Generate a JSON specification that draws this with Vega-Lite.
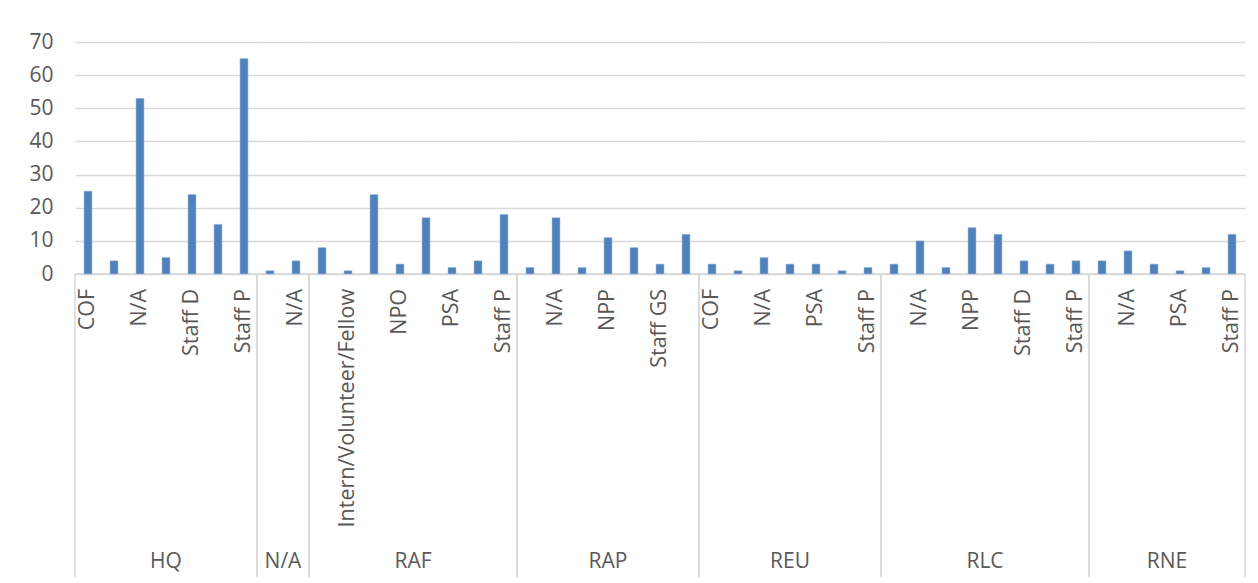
{
  "$schema": "https://vega.github.io/schema/vega-lite/v6.json",
  "padding": {"left": 28, "top": 31, "right": 10, "bottom": 0},
  "background": "white",
  "bounds": "flush",
  "data": {"values": [
    {"group": "HQ", "sub": "COF", "value": 25},
    {"group": "HQ", "sub": "Intern/Volunteer/Fellow", "value": 4},
    {"group": "HQ", "sub": "N/A", "value": 53},
    {"group": "HQ", "sub": "NPP", "value": 5},
    {"group": "HQ", "sub": "Staff D", "value": 24},
    {"group": "HQ", "sub": "Staff GS", "value": 15},
    {"group": "HQ", "sub": "Staff P", "value": 65},
    {"group": "N/A", "sub": "COF", "value": 1},
    {"group": "N/A", "sub": "N/A", "value": 4},
    {"group": "RAF", "sub": "COF", "value": 8},
    {"group": "RAF", "sub": "Intern/Volunteer/Fellow", "value": 1},
    {"group": "RAF", "sub": "N/A", "value": 24},
    {"group": "RAF", "sub": "NPO", "value": 3},
    {"group": "RAF", "sub": "NPP", "value": 17},
    {"group": "RAF", "sub": "PSA", "value": 2},
    {"group": "RAF", "sub": "Staff GS", "value": 4},
    {"group": "RAF", "sub": "Staff P", "value": 18},
    {"group": "RAP", "sub": "COF", "value": 2},
    {"group": "RAP", "sub": "N/A", "value": 17},
    {"group": "RAP", "sub": "NPO", "value": 2},
    {"group": "RAP", "sub": "NPP", "value": 11},
    {"group": "RAP", "sub": "PSA", "value": 8},
    {"group": "RAP", "sub": "Staff GS", "value": 3},
    {"group": "RAP", "sub": "Staff P", "value": 12},
    {"group": "REU", "sub": "COF", "value": 3},
    {"group": "REU", "sub": "Intern/Volunteer/Fellow", "value": 1},
    {"group": "REU", "sub": "N/A", "value": 5},
    {"group": "REU", "sub": "NPP", "value": 3},
    {"group": "REU", "sub": "PSA", "value": 3},
    {"group": "REU", "sub": "Staff GS", "value": 1},
    {"group": "REU", "sub": "Staff P", "value": 2},
    {"group": "RLC", "sub": "COF", "value": 3},
    {"group": "RLC", "sub": "N/A", "value": 10},
    {"group": "RLC", "sub": "NPO", "value": 2},
    {"group": "RLC", "sub": "NPP", "value": 14},
    {"group": "RLC", "sub": "PSA", "value": 12},
    {"group": "RLC", "sub": "Staff D", "value": 4},
    {"group": "RLC", "sub": "Staff GS", "value": 3},
    {"group": "RLC", "sub": "Staff P", "value": 4},
    {"group": "RNE", "sub": "COF", "value": 4},
    {"group": "RNE", "sub": "N/A", "value": 7},
    {"group": "RNE", "sub": "NPP", "value": 3},
    {"group": "RNE", "sub": "PSA", "value": 1},
    {"group": "RNE", "sub": "Staff GS", "value": 2},
    {"group": "RNE", "sub": "Staff P", "value": 12}
  ]},
  "transform": [
    {"window": [{"op": "row_number", "as": "rn"}]},
    {"window": [{"op": "row_number", "as": "rn_g"}], "groupby": ["group"]},
    {"joinaggregate": [{"op": "count", "as": "n_g"}], "groupby": ["group"]}
  ],
  "facet": {
    "column": {
      "field": "group",
      "type": "nominal",
      "title": null,
      "header": {
        "title": null,
        "labelOrient": "bottom",
        "labelFontSize": 21,
        "labelFont": "Open Sans",
        "labelColor": "#595959",
        "labelPadding": -26,
        "labelBaseline": "top"
      }
    }
  },
  "spacing": 0,
  "resolve": {"scale": {"x": "independent"}},
  "spec": {
    "width": {"step": 26},
    "height": 535,
    "layer": [
      {
        "mark": {"type": "rule", "color": "#D9D9D9", "strokeWidth": 1.5},
        "encoding": {
          "y": {"datum": 0, "type": "quantitative", "scale": {"domain": [-91.4, 70], "nice": false, "zero": false}, "axis": {"values": [0, 10, 20, 30, 40, 50, 60, 70], "title": null}}
        }
      },
      {
        "mark": {"type": "bar", "color": "#4F81BD", "width": {"band": 0.31}, "stroke": "#A9C1E0", "strokeWidth": 0.6},
        "encoding": {
          "x": {"field": "sub", "type": "nominal", "sort": null, "axis": null, "scale": {"paddingInner": 0, "paddingOuter": 0}},
          "y": {"field": "value", "type": "quantitative", "axis": {"values": [0, 10, 20, 30, 40, 50, 60, 70], "title": null}}
        }
      },
      {
        "transform": [{"filter": "datum.rn % 2 == 1"}],
        "mark": {"type": "text", "angle": -90, "align": "right", "baseline": "middle", "font": "Open Sans", "fontSize": 21.5, "color": "#595959"},
        "encoding": {
          "x": {"field": "sub", "type": "nominal", "sort": null},
          "y": {"datum": -4.5, "type": "quantitative"},
          "text": {"field": "sub", "type": "nominal"}
        }
      },
      {
        "transform": [{"filter": "datum.rn_g == 1"}],
        "mark": {"type": "rule", "color": "#D9D9D9", "strokeWidth": 1.5},
        "encoding": {
          "x": {"field": "sub", "type": "nominal", "sort": null, "bandPosition": 0},
          "y": {"datum": 0, "type": "quantitative"},
          "y2": {"datum": -91.4}
        }
      },
      {
        "transform": [{"filter": "datum.rn_g == datum.n_g"}],
        "mark": {"type": "rule", "color": "#D9D9D9", "strokeWidth": 1.5},
        "encoding": {
          "x": {"field": "sub", "type": "nominal", "sort": null, "bandPosition": 1},
          "y": {"datum": 0, "type": "quantitative"},
          "y2": {"datum": -91.4}
        }
      }
    ]
  },
  "config": {
    "view": {"stroke": null},
    "axisY": {
      "grid": true,
      "gridColor": "#D9D9D9",
      "gridWidth": 1.5,
      "domain": false,
      "ticks": false,
      "labelFont": "Open Sans",
      "labelFontSize": 21,
      "labelColor": "#595959",
      "labelPadding": 22
    }
  }
}
